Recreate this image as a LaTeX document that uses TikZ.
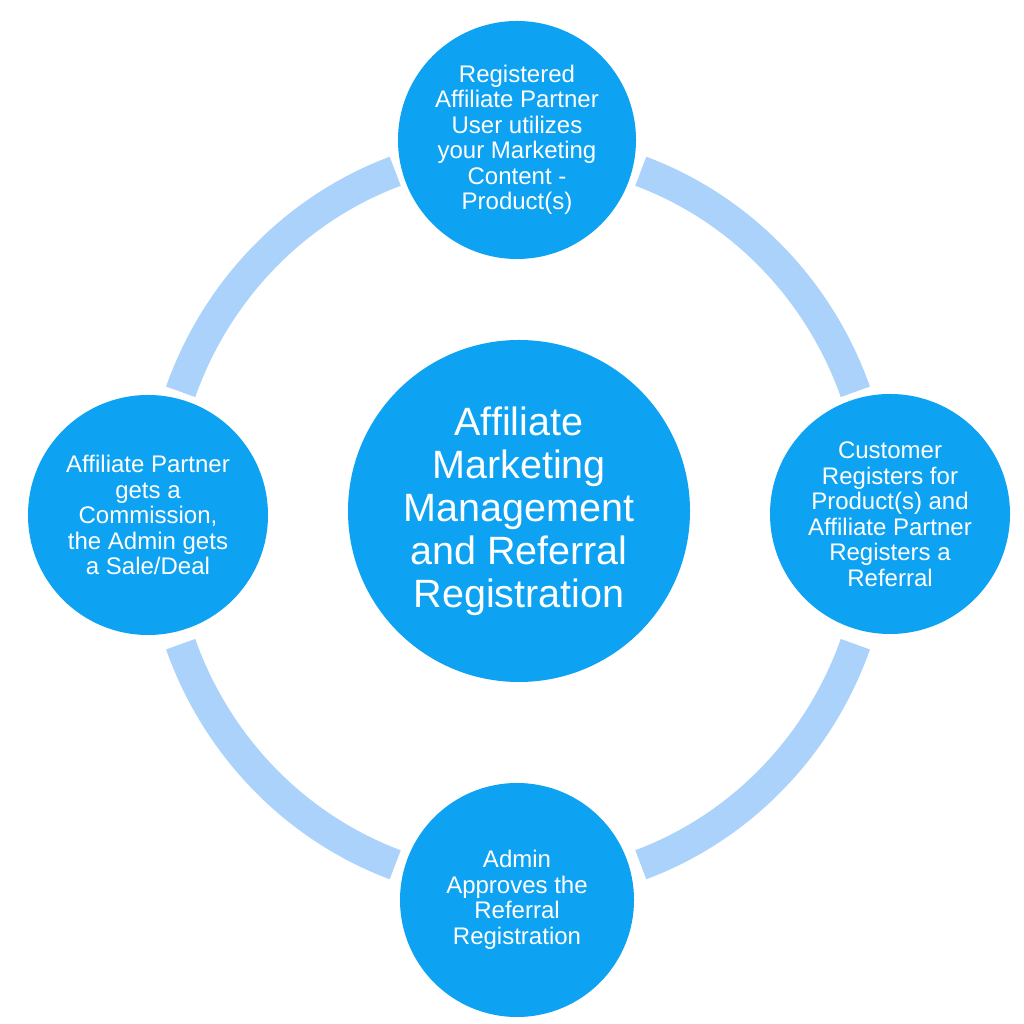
\documentclass[tikz,border=0pt]{standalone}
\usepackage{fontspec}
\setmainfont{Liberation Sans}
\definecolor{cblue}{RGB}{14,162,242}
\definecolor{rblue}{RGB}{170,210,250}
\begin{document}
\begin{tikzpicture}[x=1pt,y=1pt,
  ringarc/.style={draw=rblue,line width=31pt,line cap=butt},
  stage/.style={circle,fill=cblue,text=white,inner sep=0pt,align=center,
    font=\fontsize{24}{25.5}\selectfont},
  hub/.style={circle,fill=cblue,text=white,inner sep=0pt,align=center,
    font=\fontsize{39.5}{43}\selectfont}]
\useasboundingbox[fill=white] (0,0) rectangle (1024,1024);
\coordinate (rc) at (518,506);
% ring arcs
\foreach \a in {20,110,200,290}{
  \draw[ringarc] (rc) ++(\a:359 and 369) arc[start angle=\a,end angle=\a+50,x radius=359,y radius=369];
}
\node[hub,minimum size=342pt] (center) at (519,513)
  {Affiliate\\Marketing\\Management\\and Referral\\Registration};
\node[stage,minimum size=238pt] (top) at (517,884)
  {Registered\\Affiliate Partner\\User utilizes\\your Marketing\\Content -\\Product(s)};
\node[stage,minimum size=240pt] (right) at (890,510)
  {Customer\\Registers for\\Product(s) and\\Affiliate Partner\\Registers a\\Referral};
\node[stage,minimum size=234pt] (bottom) at (517,124)
  {Admin\\Approves the\\Referral\\Registration};
\node[stage,minimum size=240pt] (left) at (148,509)
  {Affiliate Partner\\gets a\\Commission,\\the Admin gets\\a Sale/Deal};
\end{tikzpicture}
\end{document}
